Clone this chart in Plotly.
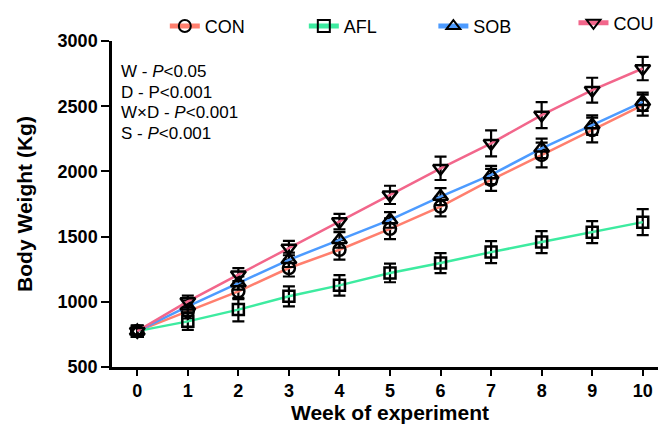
import plotly.graph_objects as go

weeks = [0, 1, 2, 3, 4, 5, 6, 7, 8, 9, 10]
con = [775, 927, 1080, 1259, 1399, 1560, 1730, 1935, 2126, 2317, 2508]
afl = [775, 850, 940, 1042, 1126, 1221, 1297, 1381, 1458, 1534, 1611]
sob = [775, 965, 1144, 1322, 1475, 1628, 1807, 1973, 2177, 2355, 2534]
cou = [775, 1003, 1208, 1412, 1615, 1820, 2024, 2215, 2432, 2623, 2789]
con_err = [40, 55, 60, 65, 75, 80, 75, 85, 95, 95, 80]
afl_err = [40, 65, 90, 77, 79, 71, 77, 84, 84, 84, 100]
sob_err = [40, 45, 50, 55, 60, 60, 65, 70, 75, 75, 70]
cou_err = [40, 45, 50, 55, 60, 70, 90, 100, 100, 95, 90]

names = ["CON", "AFL", "SOB", "COU"]
colors = ["#FF7F6E", "#3DEBA0", "#4D9BFF", "#F2668B"]
symbols = ["circle-open", "square-open", "triangle-up-open", "triangle-down-open"]
sizes = [12, 11, 13, 13]
legend_ids = ["legend", "legend2", "legend3", "legend4"]
legend_x = [0.095, 0.345, 0.578, 0.83]
legend_y = [1.045, 1.045, 1.045, 1.055]

stats_lines = [
    "W - <i>P</i>&lt;0.05",
    "D - P&lt;0.001",
    "W×D - <i>P</i>&lt;0.001",
    "S - <i>P</i>&lt;0.001",
]
stats_y = [0.905, 0.842, 0.78, 0.717]

FONT = "Arial, Liberation Sans, sans-serif"

fig = go.Figure()
for name, ys, errs, col, sym, sz, lid in zip(names, [con, afl, sob, cou],
                                             [con_err, afl_err, sob_err, cou_err],
                                             colors, symbols, sizes, legend_ids):
    fig.add_trace(go.Scatter(
        x=weeks, y=ys, name=name, mode="lines+markers", legend=lid,
        line=dict(color=col, width=2.5),
        marker=dict(symbol=sym, size=sz, color="black", line=dict(width=2.5, color="black")),
        error_y=dict(type="data", array=errs, visible=True, color="black", thickness=2.2, width=6),
    ))

legend_layout = {}
for lid, lx, ly in zip(legend_ids, legend_x, legend_y):
    legend_layout[lid] = dict(
        orientation="h", x=lx, y=ly, xanchor="left", yanchor="middle",
        font=dict(size=18, family=FONT), bgcolor="rgba(0,0,0,0)",
        itemsizing="constant",
    )

annotations = [dict(
    xref="paper", yref="paper", x=0.012, y=sy, xanchor="left", yanchor="middle",
    align="left", showarrow=False, text=txt,
    font=dict(size=17, family=FONT, color="black"),
) for txt, sy in zip(stats_lines, stats_y)]

fig.update_layout(
    width=666, height=427,
    margin=dict(l=104, r=6, t=33, b=68, autoexpand=False),
    plot_bgcolor="white", paper_bgcolor="white",
    font=dict(family=FONT, color="black"),
    showlegend=True,
    xaxis=dict(range=[-0.5, 10.5], tickvals=weeks, showline=True, linewidth=2.5,
               linecolor="black", ticks="outside", ticklen=6, tickwidth=2,
               tickcolor="black", showgrid=False, zeroline=False,
               tickfont=dict(size=18, family=FONT, weight="bold"),
               title=dict(text="<b>Week of experiment</b>", font=dict(size=21, family=FONT),
                          standoff=1)),
    yaxis=dict(range=[500, 3000], tickvals=[500, 1000, 1500, 2000, 2500, 3000],
               showline=True, linewidth=2.5, linecolor="black", ticks="outside",
               ticklen=8, tickwidth=2, tickcolor="black", showgrid=False, zeroline=False,
               tickfont=dict(size=18, family=FONT, weight="bold"),
               title=dict(text="<b>Body Weight (Kg)</b>", font=dict(size=21, family=FONT),
                          standoff=20)),
    annotations=annotations,
    **legend_layout,
)

fig.write_html("out.html")
